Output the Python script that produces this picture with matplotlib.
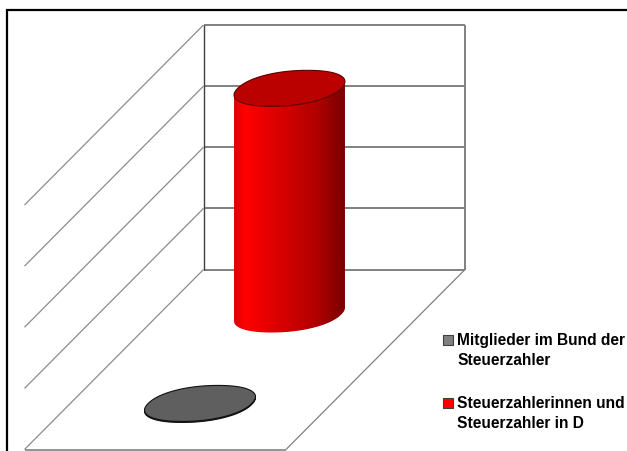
import numpy as np
import matplotlib
matplotlib.use("Agg")
import matplotlib.pyplot as plt
from matplotlib.colors import LinearSegmentedColormap
from matplotlib.patches import PathPatch, Polygon, Rectangle
from matplotlib.path import Path

plt.rcParams["font.family"] = ["Liberation Sans", "DejaVu Sans"]

# Data (millions of people)
series_names = ["Mitglieder im Bund der\nSteuerzahler",
                "Steuerzahlerinnen und\nSteuerzahler in D"]
series_values = [0.35, 74.0]
series_depth = [0.25, 0.75]
value_ticks = [0, 20, 40, 60, 80]
top_colors = ["#5f5f5f", "#bb0000"]
swatch_colors = ["#808080", "#ff0000"]

W, H = 627, 451
fig = plt.figure(figsize=(W / 100, H / 100), dpi=100)
ax = fig.add_axes([0, 0, 1, 1])
ax.set_xlim(0, W)
ax.set_ylim(H, 0)
ax.axis("off")

# Oblique projection: u across, d into the chart, value upward
ORIGIN = np.array([24.5, 449.5])
U_VEC = np.array([261.5, 0.0])
D_VEC = np.array([179.0, -180.0])
V_LEN = 244.5
V_MAX = value_ticks[-1]


def project(u, d, value=0.0):
    u, d, value = np.asarray(u), np.asarray(d), np.asarray(value)
    x = ORIGIN[0] + u * U_VEC[0] + d * D_VEC[0]
    y = ORIGIN[1] + u * U_VEC[1] + d * D_VEC[1] - value / V_MAX * V_LEN
    return np.column_stack([np.atleast_1d(x), np.atleast_1d(y)])


def seg(a, b, color, lw):
    pts = np.vstack([a, b])
    ax.plot(pts[:, 0], pts[:, 1], color=color, lw=lw, solid_capstyle="butt", zorder=2)


# Outer frame, open at the right and the bottom
ax.plot([6.5, 6.5, W], [H, 10, 10], color="black", lw=1.6,
        solid_joinstyle="miter", zorder=1)

# Gridlines on the back and side walls
for t in value_ticks:
    seg(project(0, 1, t), project(1, 1, t), "#808080", 1.4)
    seg(project(0, 0, t), project(0, 1, t), "#8c8c8c", 0.9)

# Wall and floor edges
seg(project(0, 1, 0), project(0, 1, V_MAX), "#404040", 1.0)
seg(project(1, 1, 0), project(1, 1, V_MAX), "#808080", 1.4)
seg(project(1, 0, 0), project(1, 1, 0), "#808080", 0.9)
seg(project(0, 0, 0), project(1, 0, 0), "#808080", 1.2)

# Cylinders, each a slightly rounded circle on the floor under the projection
theta = np.linspace(0, 2 * np.pi, 361)
ring_u = np.sign(np.cos(theta)) * np.abs(np.cos(theta)) ** 0.93
ring_d = np.sign(np.sin(theta)) * np.abs(np.sin(theta)) ** 0.93
R_U, R_D = 0.198, 0.1
shade = LinearSegmentedColormap.from_list(
    "shade", [(0, "#e00000"), (0.1, "#ff0000"), (0.75, "#b00000"), (1, "#780000")])
edge_colors = ["#111111", "#5a0000"]

for value, depth, top, edge in zip(series_values, series_depth, top_colors, edge_colors):
    base = project(0.5 + R_U * ring_u, depth + R_D * ring_d, np.zeros_like(theta))
    cap = project(0.5 + R_U * ring_u, depth + R_D * ring_d, np.full_like(theta, value))
    left, right = base[:, 0].argmin(), base[:, 0].argmax()
    # Lower half of the base runs from the left extreme to the right extreme
    order = np.arange(left, left + 361) % 360
    order = order[: ((right - left) % 360) + 1]
    cap_order = order[::-1]
    body = np.vstack([base[order], cap[cap_order], base[order[:1]]])
    body_path = Path(body, closed=True)
    x0, x1 = base[:, 0].min(), base[:, 0].max()
    y0, y1 = cap[:, 1].min(), base[:, 1].max() + 1
    if value > 5:
        img = ax.imshow(np.linspace(0, 1, 256)[None, :], cmap=shade, aspect="auto",
                        extent=[x0, x1, y1, y0], zorder=3)
        img.set_clip_path(PathPatch(body_path, transform=ax.transData))
    else:
        ax.add_patch(PathPatch(body_path, fc="#404040", ec=edge, lw=0.7, zorder=3))
    ax.add_patch(Polygon(cap, closed=True, fc=top, ec=edge, lw=0.8, zorder=5))

ax.set_xlim(0, W)
ax.set_ylim(H, 0)

# Legend
for name, color, ypos in zip(series_names, swatch_colors, [340, 403]):
    ax.add_patch(Rectangle((443, ypos - 5), 10, 10, fc=color, ec="#404040", lw=0.8, zorder=6))
    ax.text(457, ypos + 10.5, name, fontsize=11.2, fontweight="bold", color="black",
            va="center", ha="left", linespacing=1.46, zorder=6)

fig.savefig("out.png", dpi=100)
